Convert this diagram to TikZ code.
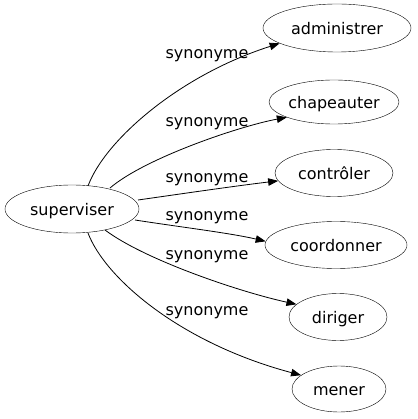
\documentclass[tikz,border=0pt]{standalone}
\usepackage{fontspec}
\setmainfont{DejaVu Sans}
\usetikzlibrary{shapes.geometric,arrows.meta}
\begin{document}
\begin{tikzpicture}[x=1pt,y=-1pt,
  word/.style={draw,ellipse,inner sep=0pt,font=\fontsize{16}{19}\selectfont,text height=15pt,text depth=2pt},
  rel/.style={anchor=base,inner sep=0pt,font=\fontsize{16}{19}\selectfont},
  link/.style={draw,line width=0.8pt,-{Triangle[length=10pt,width=7.5pt]}}]
\useasboundingbox[fill=white] (0,0) rectangle (417,419);
\node[word,minimum width=134pt,minimum height=48pt] (sup) at (72,209) {superviser};
\node[word,minimum width=148pt,minimum height=48pt] (adm) at (337,28) {administrer};
\node[word,minimum width=130pt,minimum height=44pt] (cha) at (334,102) {chapeauter};
\node[word,minimum width=118pt,minimum height=47pt] (con) at (334,173) {contrôler};
\node[word,minimum width=142pt,minimum height=47pt] (coo) at (336,245) {coordonner};
\node[word,minimum width=98pt,minimum height=47pt] (dir) at (338,317) {diriger};
\node[word,minimum width=94pt,minimum height=46pt] (men) at (339,389) {mener};
\coordinate (s1) at (88,186);
\coordinate (s2) at (110,188);
\coordinate (s3) at (138,200);
\coordinate (s4) at (135,220);
\coordinate (s5) at (105,230);
\coordinate (s6) at (88,233);
\draw[link] (s1) .. controls (105,140) and (180,75) .. (adm.{-165});
\draw[link] (s2) .. controls (145,158) and (240,126) .. (cha.{-162});
\draw[link] (s3) .. controls (180,194) and (235,186) .. (con.{-172});
\draw[link] (s4) .. controls (180,227) and (230,233) .. (coo.{177});
\draw[link] (s5) .. controls (145,260) and (240,292) .. (dir.{163});
\draw[link] (s6) .. controls (105,278) and (180,343) .. (men.{160});
\node[rel] (l1) at (207,59) {synonyme};
\node[rel] (l2) at (207,127) {synonyme};
\node[rel] (l3) at (207,183) {synonyme};
\node[rel] (l4) at (207,220) {synonyme};
\node[rel] (l5) at (207,259) {synonyme};
\node[rel] (l6) at (207,315) {synonyme};
\end{tikzpicture}
\end{document}
